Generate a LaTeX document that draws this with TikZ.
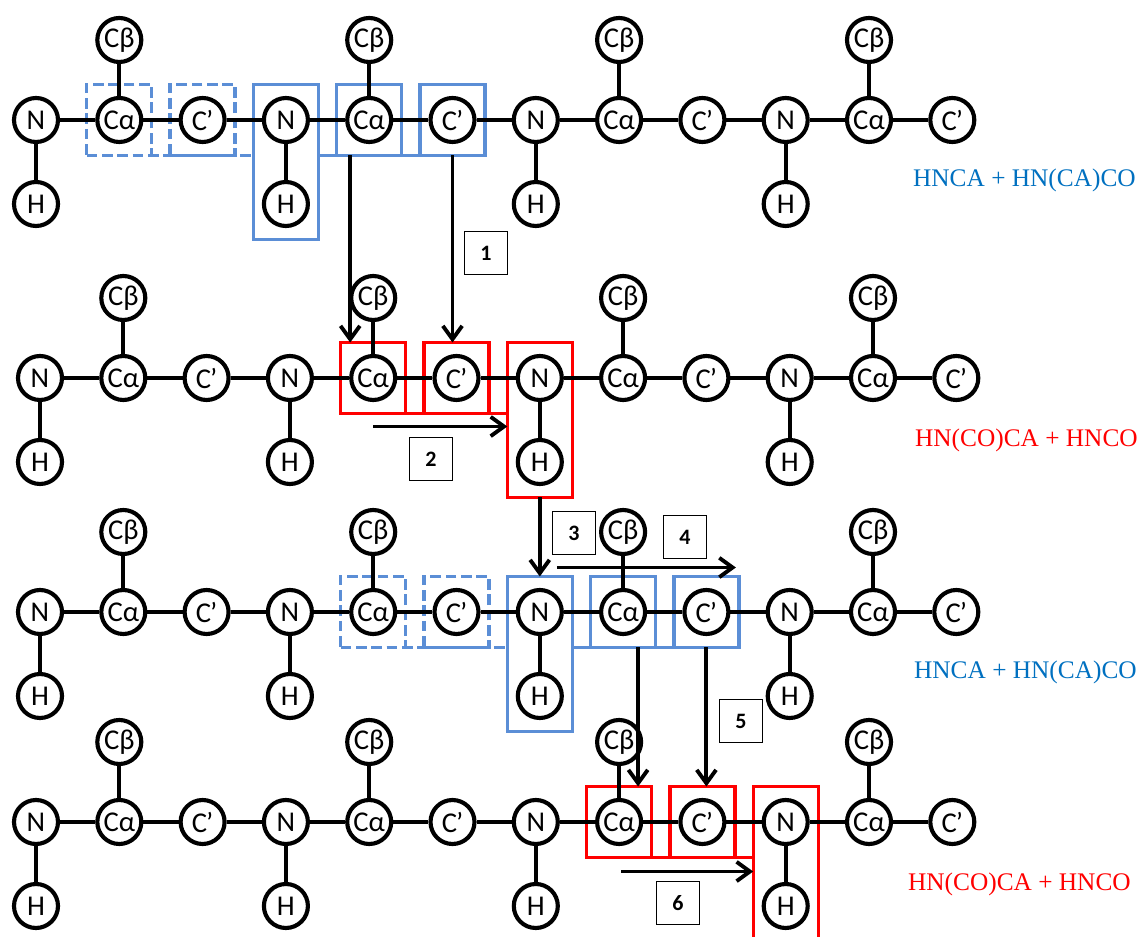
\documentclass[tikz,border=0pt]{standalone}
\usepackage{fontspec}
\setmainfont{Liberation Serif}
\newfontfamily\calfont{Carlito}
\usetikzlibrary{calc,arrows.meta,backgrounds}
\definecolor{boxblue}{RGB}{91,142,214}
\definecolor{txtblue}{RGB}{0,112,192}
\definecolor{boxred}{RGB}{255,0,0}
\tikzset{
  atom/.style={circle, draw, line width=3.1pt, minimum size=33pt, inner sep=0pt, fill=white, font=\calfont\fontsize{21.5}{21.5}\selectfont},
  bond/.style={line width=3pt},
  selbox/.style={rectangle, line width=2.5pt, minimum width=48.75pt, minimum height=53.25pt, inner sep=0pt, outer sep=0pt},
  nhbox/.style={minimum height=116.25pt},
  bluebox/.style={selbox, draw=boxblue},
  redbox/.style={selbox, draw=boxred},
  dashbox/.style={selbox, draw=boxblue, dash pattern=on 8pt off 3.5pt},
  blueline/.style={draw=boxblue, line width=2.5pt},
  redline/.style={draw=boxred, line width=2.5pt},
  dashline/.style={draw=boxblue, line width=2.5pt, dash pattern=on 8pt off 3.5pt},
  arr/.style={line width=2.9pt, -{Straight Barb[length=10pt,width=14.5pt]}},
  numbox/.style={draw, line width=0.9pt, minimum width=32.5pt, minimum height=32pt, inner sep=0pt, font=\calfont\bfseries\fontsize{16.5}{16.5}\selectfont},
  rowlabel/.style={anchor=base east, font=\fontsize{19}{19}\selectfont, inner sep=0pt},
}
\newcommand{\cprime}{C\kern-0.8pt’}
\begin{document}
\begin{tikzpicture}[x=0.75pt,y=-0.75pt]
\useasboundingbox (0,0) rectangle (1143,937);
% chains
\foreach \r/\y/\xo in {1/120/36,2/378/40,3/612/40,4/822/36}{
  \foreach \i/\lab in {0/N,1/Cα,2/\cprime,3/N,4/Cα,5/\cprime,6/N,7/Cα,8/\cprime,9/N,10/Cα,11/\cprime}{
    \node[atom] (r\r a\i) at (\xo+83.3*\i,\y) {\lab};
  }
  \foreach \i in {1,4,7,10}{
    \node[atom] (r\r b\i) at (\xo+83.3*\i,\y-80) {Cβ};
    \draw[bond] (r\r b\i) -- (r\r a\i);
  }
  \foreach \i in {0,3,6,9}{
    \node[atom] (r\r h\i) at (\xo+83.3*\i,\y+84) {H};
    \draw[bond] (r\r a\i) -- (r\r h\i);
  }
  \foreach \i [evaluate=\i as \j using int(\i+1)] in {0,...,10}{
    \draw[bond] (r\r a\i) -- (r\r a\j);
  }
}
% selection boxes
\begin{scope}[on background layer]
  % row 1
  \node[dashbox] (d1a) at (r1a1) {};
  \node[dashbox] (d1c) at (r1a2) {};
  \node[bluebox, nhbox] (b1n) at ($(r1a3)!0.5!(r1h3)$) {};
  \node[bluebox] (b1a) at (r1a4) {};
  \node[bluebox] (b1c) at (r1a5) {};
  \draw[dashline] (d1a.south west) -- (d1a.south west -| b1n.west);
  \draw[blueline] (b1n.east |- b1a.south) -- (b1c.south east);
  % row 2
  \node[redbox] (b2a) at (r2a4) {};
  \node[redbox] (b2c) at (r2a5) {};
  \node[redbox, nhbox] (b2n) at ($(r2a6)!0.5!(r2h6)$) {};
  \draw[redline] (b2a.south west) -- (b2a.south west -| b2n.west);
  % row 3
  \node[dashbox] (d3a) at (r3a4) {};
  \node[dashbox] (d3c) at (r3a5) {};
  \node[bluebox, nhbox] (b3n) at ($(r3a6)!0.5!(r3h6)$) {};
  \node[bluebox] (b3a) at (r3a7) {};
  \node[bluebox] (b3c) at (r3a8) {};
  \draw[dashline] (d3a.south west) -- (d3a.south west -| b3n.west);
  \draw[blueline] (b3n.east |- b3a.south) -- (b3c.south east);
  % row 4
  \node[redbox] (b4a) at (r4a7) {};
  \node[redbox] (b4c) at (r4a8) {};
  \node[redbox, nhbox] (b4n) at ($(r4a9)!0.5!(r4h9)$) {};
  \draw[redline] (b4a.south west) -- (b4a.south west -| b4n.west);
\end{scope}
% arrows
\coordinate (s1a) at ($(b1a.south)+(-19,0)$);
\draw[arr] (s1a) -- (s1a |- b2a.north);
\draw[arr] (b1c.south) -- (b1c.south |- b2c.north);
\coordinate (s2) at ($(b2a.south)+(0,13)$);
\draw[arr] (s2) -- (s2 -| b2n.west);
\draw[arr] (b2n.south) -- (b3n.north);
\coordinate (s4) at ($(b3n.north)+(17,-9)$);
\coordinate (e4) at ($(b3c.north east)+(-3,-9)$);
\draw[arr] (s4) -- (e4);
\coordinate (s5a) at ($(b3a.south)+(15,0)$);
\draw[arr] (s5a) -- (s5a |- b4a.north);
\draw[arr] (b3c.south) -- (b3c.south |- b4c.north);
\coordinate (s6) at ($(b4a.south)+(2,14)$);
\draw[arr] (s6) -- (s6 -| b4n.west);
% step labels
\node[numbox] (n1) at (486,253) {1};
\node[numbox] (n2) at (431,459) {2};
\node[numbox] (n3) at (574,533) {3};
\node[numbox] (n4) at (685,537) {4};
\node[numbox] (n5) at (741,721) {5};
\node[numbox] (n6) at (678,903) {6};
% experiment labels
\node[rowlabel, text=txtblue] (t1) at (1136,187) {HNCA + HN(CA)CO};
\node[rowlabel, text=boxred] (t2) at (1138,447) {HN(CO)CA + HNCO};
\node[rowlabel, text=txtblue] (t3) at (1137,678) {HNCA + HN(CA)CO};
\node[rowlabel, text=boxred] (t4) at (1131,890) {HN(CO)CA + HNCO};
\end{tikzpicture}
\end{document}
